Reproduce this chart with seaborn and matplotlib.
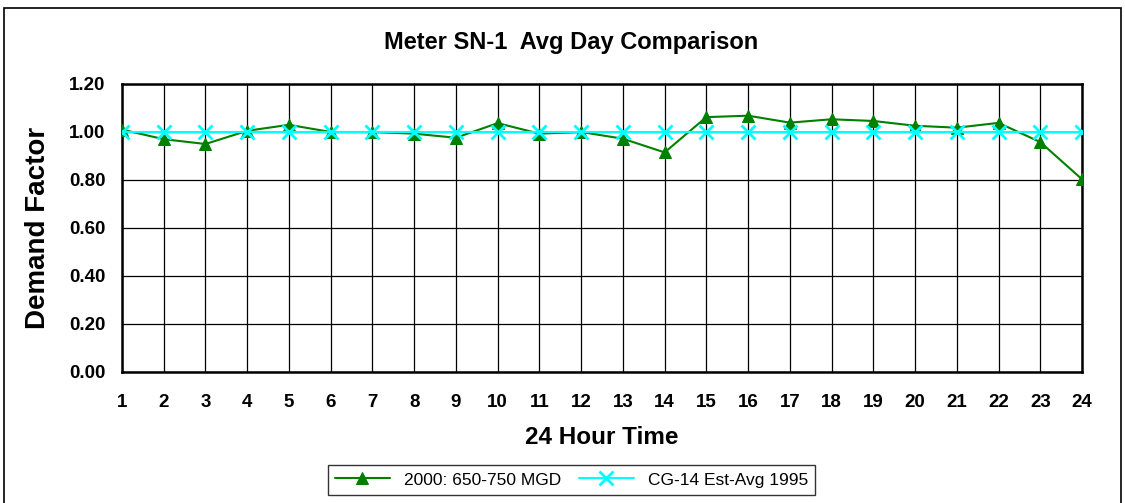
import numpy as np
import pandas as pd
import matplotlib
matplotlib.use("Agg")
import matplotlib.pyplot as plt
from matplotlib.patches import Rectangle
import seaborn as sns

# data
hours = list(range(1, 25))
demand_2000 = [1.01, 0.97, 0.95, 1.005, 1.03, 1.00, 1.00, 0.993, 0.976, 1.037,
               0.993, 1.00, 0.972, 0.915, 1.062, 1.068, 1.039, 1.053, 1.046, 1.026,
               1.018, 1.038, 0.958, 0.803]
demand_cg14 = [1.00] * 24
series_names = ["2000: 650-750 MGD", "CG-14 Est-Avg 1995"]
y_ticks = [0.0, 0.2, 0.4, 0.6, 0.8, 1.0, 1.2]

sns.set_style("white")
plt.rcParams['font.family'] = ['Liberation Sans', 'DejaVu Sans']
plt.rcParams['text.color'] = 'black'
plt.rcParams['axes.labelcolor'] = 'black'
plt.rcParams['xtick.color'] = 'black'
plt.rcParams['ytick.color'] = 'black'

df = pd.DataFrame({"hour": hours, series_names[0]: demand_2000, series_names[1]: demand_cg14})

fig = plt.figure(figsize=(11.25, 5.03), dpi=100)
ax = fig.add_axes([122 / 1125, 1 - 372 / 503, (1082 - 122) / 1125, (372 - 84) / 503])

sns.lineplot(data=df, x="hour", y=series_names[0], ax=ax, color="#008000", linewidth=1.5,
             marker="^", markersize=9, markeredgecolor="#008000", label=series_names[0], zorder=3)
sns.lineplot(data=df, x="hour", y=series_names[1], ax=ax, color="#00FFFF", linewidth=1.5,
             marker="x", markersize=10, markeredgewidth=2, markeredgecolor="#00FFFF",
             label=series_names[1], zorder=4)

ax.set_xlim(1, 24)
ax.set_ylim(0, 1.2)
ax.set_xticks(hours)
ax.set_yticks(y_ticks)
ax.set_yticklabels([f"{v:.2f}" for v in y_ticks])
ax.grid(True, color="black", linewidth=0.9)
ax.set_axisbelow(True)
for s in ax.spines.values():
    s.set_color("black")
    s.set_linewidth(1.8)
ax.tick_params(axis="both", direction="out", length=5, width=1, color="black",
               labelsize=13.5, pad=7)
ax.tick_params(axis="x", pad=11)
for lab in ax.get_xticklabels() + ax.get_yticklabels():
    lab.set_fontweight("bold")

ax.set_xlabel("24 Hour Time", fontsize=17.5, fontweight="bold", labelpad=11)
ax.set_ylabel("Demand Factor", fontsize=20, fontweight="bold", labelpad=13)
fig.text(0.508, 1 - 43 / 503, "Meter SN-1  Avg Day Comparison", ha="center", va="center",
         fontsize=17, fontweight="bold")

leg = ax.legend(loc="center", bbox_to_anchor=(0.508, 1 - 480 / 503), bbox_transform=fig.transFigure,
                ncol=2, fontsize=12.5, frameon=True, fancybox=False, handlelength=3.2,
                columnspacing=1.0, borderpad=0.4)
leg.get_frame().set_edgecolor("black")
leg.get_frame().set_linewidth(1)

fig.patches.append(Rectangle((4 / 1125, -0.05), 1117 / 1125, 1.05 - 8 / 503, transform=fig.transFigure,
                             fill=False, edgecolor="black", linewidth=1.2))

fig.savefig("out.png", dpi=100)
